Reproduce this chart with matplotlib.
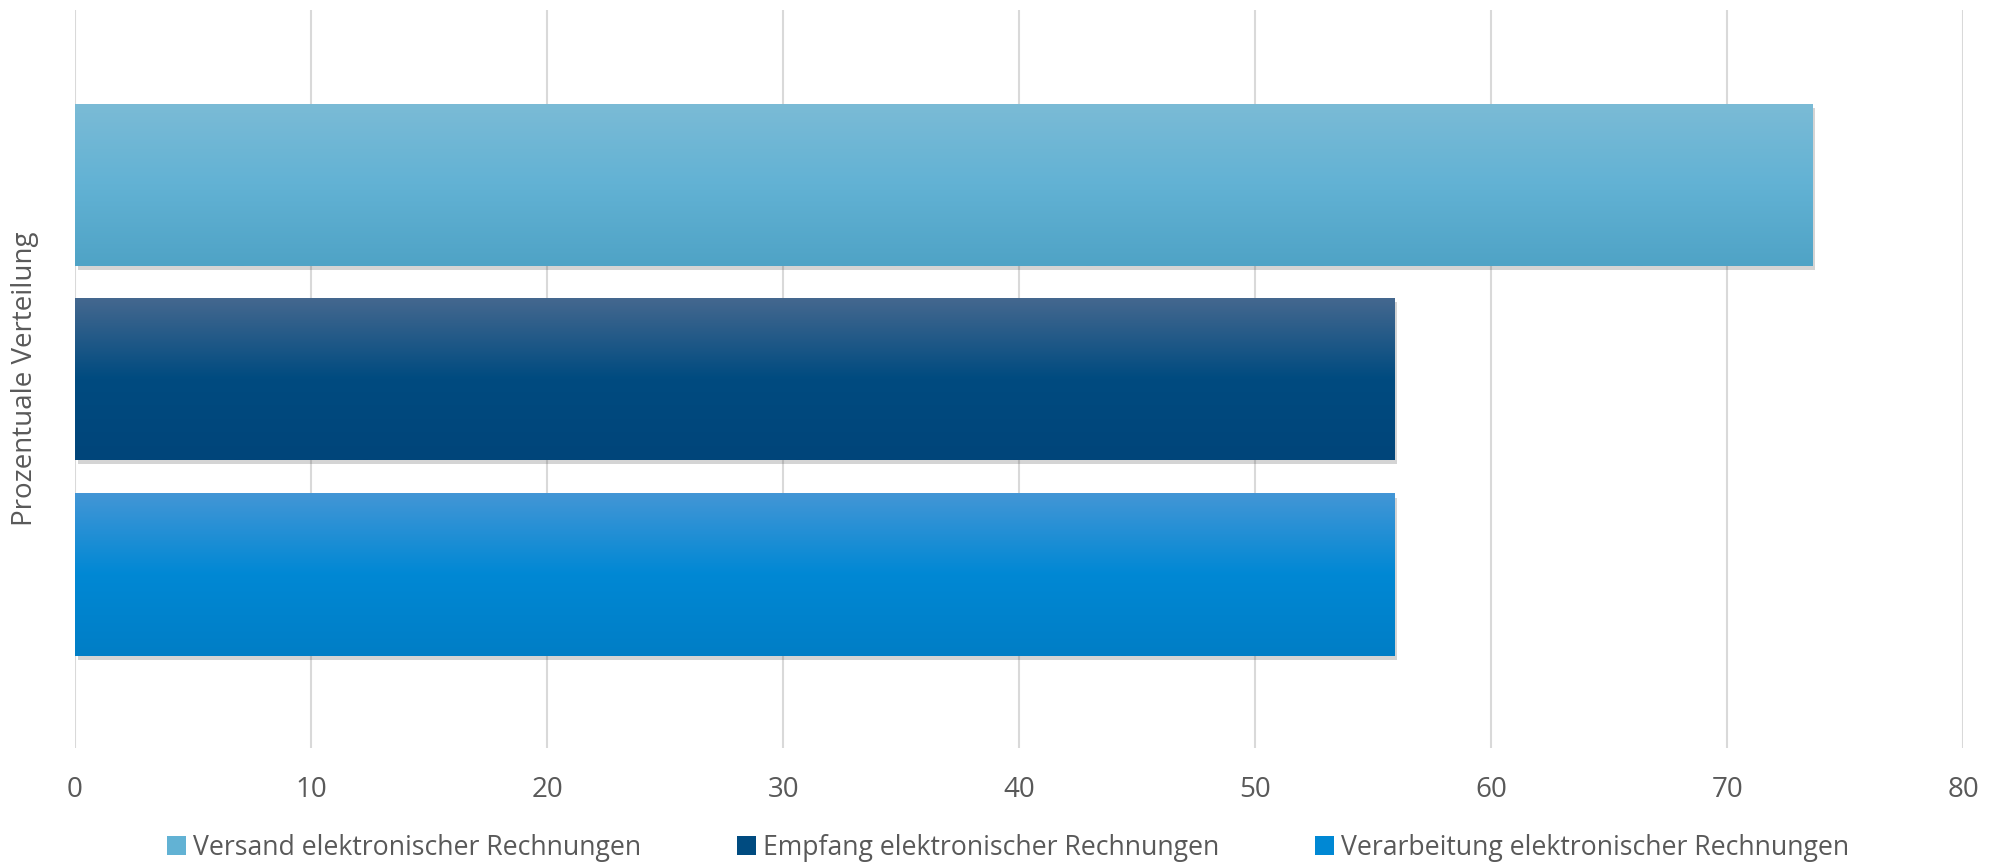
import matplotlib.pyplot as plt
import matplotlib.patheffects as pe
from matplotlib.patches import Patch
import numpy as np

plt.rcParams['font.family'] = ['Open Sans', 'DejaVu Sans']

series = ['Versand elektronischer Rechnungen',
          'Empfang elektronischer Rechnungen',
          'Verarbeitung elektronischer Rechnungen']
values = [73.6, 55.9, 55.9]
xticks = [0, 10, 20, 30, 40, 50, 60, 70, 80]

# gradient stops per series: top, middle, bottom
grads = [['#7BBBD6', '#62B2D4', '#4FA3C6'],
         ['#45688F', '#004B80', '#00457A'],
         ['#4396D6', '#0088D4', '#007EC6']]
ypos = [0.263, 0.0, -0.265]
bh = 0.22
txt = '#595959'


def hex2rgb(h):
    h = h.lstrip('#')
    return np.array([int(h[i:i + 2], 16) / 255 for i in (0, 2, 4)])


def grad_img(stops, n=100):
    c = [hex2rgb(s) for s in stops]
    t = np.linspace(0, 1, n)
    rows = []
    for v in t:
        if v < 0.5:
            rows.append(c[0] + (c[1] - c[0]) * v / 0.5)
        else:
            rows.append(c[1] + (c[2] - c[1]) * (v - 0.5) / 0.5)
    return np.array(rows)[:, None, :]


fig = plt.figure(figsize=(19.96, 8.68), dpi=100)
ax = fig.add_axes([0.0376, 0.1382, 0.946, 0.8503])

for i, (name, val) in enumerate(zip(series, values)):
    bars = ax.barh(ypos[i], val, height=bh, color=grads[i][1], zorder=3)
    p = bars[0]
    p.set_path_effects([pe.SimplePatchShadow(offset=(2, -3), alpha=0.25, shadow_rgbFace='#555555'),
                        pe.Normal()])
    im = ax.imshow(grad_img(grads[i]), extent=[0, val, ypos[i] - bh / 2, ypos[i] + bh / 2],
                   aspect='auto', origin='upper', zorder=4)
    im.set_clip_path(p)

ax.set_xlim(0, 80)
ax.set_ylim(-0.5, 0.5)
ax.set_xticks(xticks)
ax.set_yticks([])
ax.grid(axis='x', color='#D9D9D9', linewidth=1.5, zorder=0)
for s in ax.spines.values():
    s.set_visible(False)
ax.tick_params(axis='x', length=0, pad=20, labelsize=20, labelcolor=txt)

fig.text(25 / 1996, 0.564, 'Prozentuale Verteilung', rotation=90, va='center', ha='center',
         fontsize=20, color=txt)

handles = [Patch(facecolor=g[1]) for g in grads]
fig.legend(handles, series, loc='center', bbox_to_anchor=(0.505, 1 - 848 / 868), ncol=3,
           frameon=False, fontsize=19.2, labelcolor=txt, handlelength=0.72, handleheight=0.72,
           handletextpad=0.25, columnspacing=3.6)

fig.savefig('out.png', dpi=100, facecolor='white')
